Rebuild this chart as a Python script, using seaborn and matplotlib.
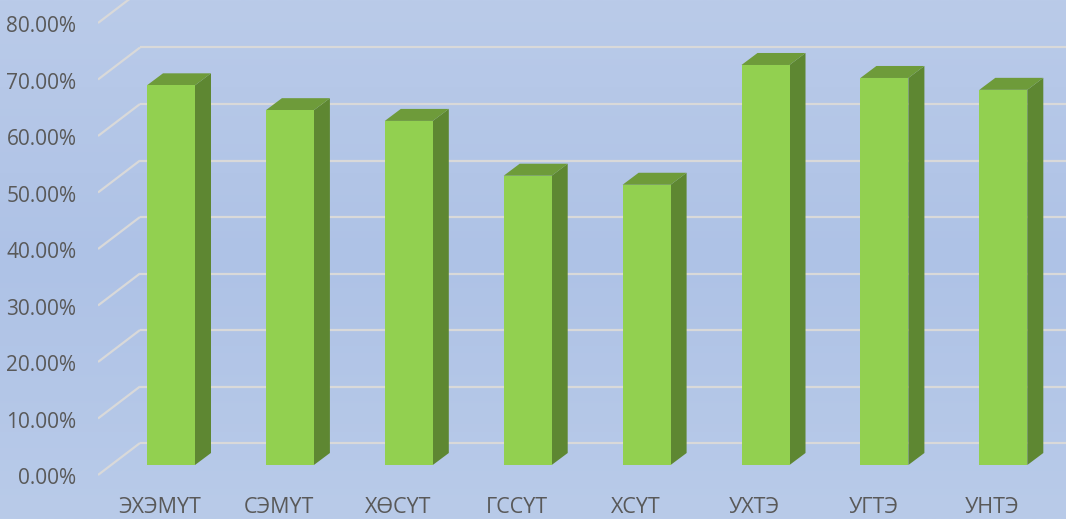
import numpy as np
import pandas as pd
import matplotlib
matplotlib.use("Agg")
import matplotlib.pyplot as plt
from matplotlib.patches import Polygon
from matplotlib.colors import LinearSegmentedColormap
import seaborn as sns

# ---- data ----
categories = ["ЭХЭМҮТ", "СЭМҮТ", "ХӨСҮТ", "ГССҮТ", "ХСҮТ", "УХТЭ", "УГТЭ", "УНТЭ"]
values = [67.2, 62.8, 60.9, 51.2, 49.6, 70.8, 68.5, 66.4]
ytick_values = [0, 10, 20, 30, 40, 50, 60, 70, 80]
ytick_labels = [f"{v:.2f}%" for v in ytick_values]

df = pd.DataFrame({"cat": categories, "val": values})

sns.set_theme(style="white")
plt.rcParams["font.family"] = ["Open Sans", "DejaVu Sans"]

W, H = 1066, 519
fig = plt.figure(figsize=(W / 100, H / 100), dpi=100)

# background gradient
bg = fig.add_axes([0, 0, 1, 1], zorder=0)
cmap = LinearSegmentedColormap.from_list(
    "bg", [(0, "#BACBE9"), (0.5, "#AEC2E6"), (1, "#B9CBE9")])
grad = np.linspace(0, 1, 256).reshape(-1, 1)
bg.imshow(grad, aspect="auto", cmap=cmap, extent=[0, 1, 0, 1], origin="upper")
bg.set_axis_off()

# main axes geometry (pixel based layout)
px_per_pct = 5.65
x0_px, spacing_px = 171.0, 118.9
front_bottom_px = 465.0
ax_left_px, ax_bottom_px = 98.0, 480.0
ax = fig.add_axes([ax_left_px / W, (H - ax_bottom_px) / H,
                   (W - ax_left_px) / W, ax_bottom_px / H], zorder=1)
ax.set_facecolor("none")

xlim = ((ax_left_px - x0_px) / spacing_px, (W - x0_px) / spacing_px)
ylim = ((front_bottom_px - ax_bottom_px) / px_per_pct, front_bottom_px / px_per_pct)

# depth offsets (data units)
bar_dx, bar_dy = 16 / spacing_px, 12 / px_per_pct
back_dx, back_dy = 29 / spacing_px, 22 / px_per_pct
front_dx, front_dy = -13 / spacing_px, -10 / px_per_pct
grid_color = "#D9D9D9"

# gridlines: back wall + side wall diagonal
for v in ytick_values:
    yb = v + back_dy
    ax.plot([xlim[0] + (back_dx - front_dx), xlim[1]], [yb, yb],
            color=grid_color, lw=1.6, zorder=1, solid_capstyle="butt")
    ax.plot([xlim[0], xlim[0] + (back_dx - front_dx)], [v + front_dy, yb],
            color=grid_color, lw=1.6, zorder=1, solid_capstyle="butt")

bar_width = 48 / spacing_px
sns.barplot(data=df, x="cat", y="val", color="#92D050", saturation=1,
            width=bar_width, ax=ax, zorder=3, edgecolor="none")

for p in ax.patches:
    x, y, w, h = p.get_x(), p.get_y(), p.get_width(), p.get_height()
    top = y + h
    side = Polygon([(x + w, y), (x + w + bar_dx, y + bar_dy),
                    (x + w + bar_dx, top + bar_dy), (x + w, top)],
                   closed=True, facecolor="#5E8732", edgecolor="none", zorder=2.9)
    cap = Polygon([(x, top), (x + w, top), (x + w + bar_dx, top + bar_dy),
                   (x + bar_dx, top + bar_dy)],
                  closed=True, facecolor="#6E9B3A", edgecolor="none", zorder=2.9)
    ax.add_patch(side)
    ax.add_patch(cap)

ax.set_xlim(*xlim)
ax.set_ylim(*ylim)

# category labels sit on the floor, slightly left of bar centres
label_shift = 11 / spacing_px
ax.set_xticks(np.arange(len(categories)) - label_shift, categories)
ax.set_yticks([v + front_dy - 0.2 for v in ytick_values])
ax.set_yticklabels(ytick_labels)
ax.tick_params(axis="y", length=0, pad=15.5, labelsize=15, labelcolor="#595959")
ax.tick_params(axis="x", length=0, pad=12.5, labelsize=15.5, labelcolor="#595959")
ax.set_xlabel("")
ax.set_ylabel("")
for s in ax.spines.values():
    s.set_visible(False)
ax.grid(False)

fig.savefig("out.png", dpi=100)
